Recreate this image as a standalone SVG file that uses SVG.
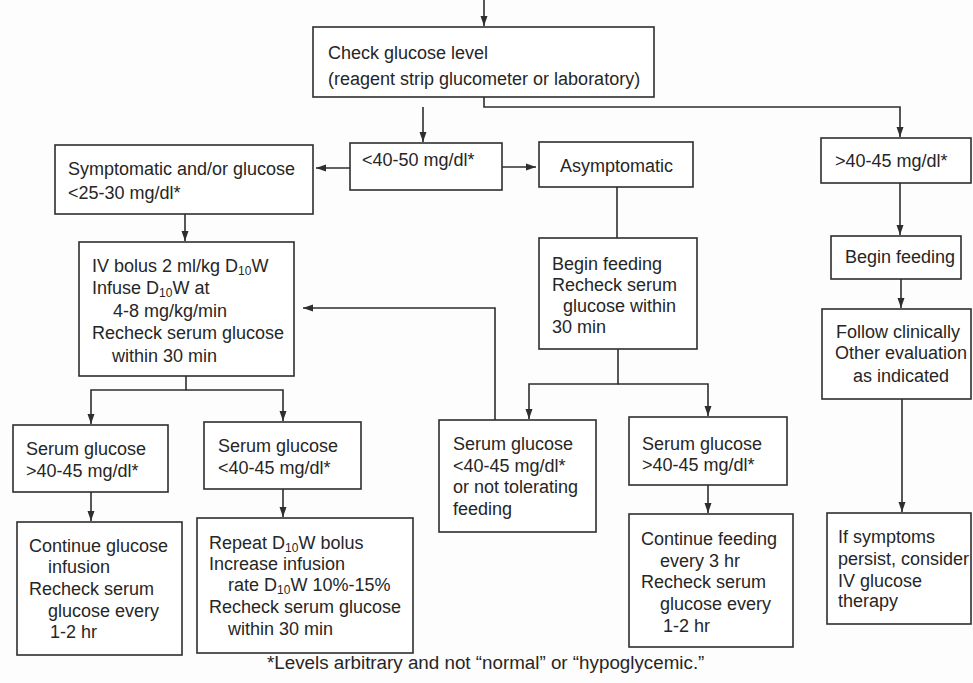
<svg xmlns="http://www.w3.org/2000/svg" width="973" height="683" viewBox="0 0 973 683">
<style>
.box{fill:#fff;stroke:#2e2e2e;stroke-width:1.6}
.ln{fill:none;stroke:#2e2e2e;stroke-width:1.6}
text{font-family:"Liberation Sans",Arial,sans-serif;font-size:18px;fill:#262626}
.sub{font-size:12px}
</style>
<defs>
<marker id="ah" markerUnits="userSpaceOnUse" markerWidth="10" markerHeight="8" refX="10" refY="4" orient="auto">
<path d="M0,0.5 L10,4 L0,7.5 z" fill="#2e2e2e"/>
</marker>
</defs>
<rect width="973" height="683" fill="#fdfdfd"/>
<g id="connectors">
<line class="ln" x1="484" y1="0" x2="484" y2="26" marker-end="url(#ah)"/>
<polyline class="ln" points="484,97 484,107 900,107 900,137" marker-end="url(#ah)"/>
<polyline class="ln" points="423,107 423,142" marker-end="url(#ah)"/>
<line class="ln" x1="350" y1="168" x2="316" y2="168" marker-end="url(#ah)"/>
<line class="ln" x1="502" y1="167" x2="536" y2="167" marker-end="url(#ah)"/>
<line class="ln" x1="185" y1="214" x2="185" y2="241" marker-end="url(#ah)"/>
<polyline class="ln" points="495,420 495,308 303,308" marker-end="url(#ah)"/>
<line class="ln" x1="617" y1="187" x2="617" y2="238"/>
<polyline class="ln" points="618,349 618,384 529,384 529,419" marker-end="url(#ah)"/>
<polyline class="ln" points="618,384 708,384 708,416" marker-end="url(#ah)"/>
<line class="ln" x1="708" y1="485" x2="708" y2="513" marker-end="url(#ah)"/>
<line class="ln" x1="900" y1="183" x2="900" y2="235" marker-end="url(#ah)"/>
<line class="ln" x1="901" y1="279" x2="901" y2="308" marker-end="url(#ah)"/>
<line class="ln" x1="902" y1="399" x2="902" y2="512" marker-end="url(#ah)"/>
<polyline class="ln" points="186,376 186,390 91,390 91,424" marker-end="url(#ah)"/>
<polyline class="ln" points="186,390 283,390 283,421" marker-end="url(#ah)"/>
<line class="ln" x1="91" y1="492" x2="91" y2="521" marker-end="url(#ah)"/>
<line class="ln" x1="283" y1="489" x2="283" y2="517" marker-end="url(#ah)"/>
</g>
<g id="check">
<rect class="box" x="313" y="27" width="341" height="70"/>
<text x="328" y="59">Check glucose level</text>
<text x="328" y="85">(reagent strip glucometer or laboratory)</text>
</g>
<g id="lt4050">
<rect class="box" x="350" y="143" width="152" height="47"/>
<text x="362" y="166">&lt;40-50 mg/dl*</text>
</g>
<g id="symptomatic">
<rect class="box" x="55" y="145" width="258" height="69"/>
<text x="68" y="175">Symptomatic and/or glucose</text>
<text x="68" y="199">&lt;25-30 mg/dl*</text>
</g>
<g id="asymptomatic">
<rect class="box" x="539" y="142" width="154" height="45"/>
<text x="560" y="172">Asymptomatic</text>
</g>
<g id="gt4045top">
<rect class="box" x="821" y="138" width="150" height="45"/>
<text x="835" y="167">&gt;40-45 mg/dl*</text>
</g>
<g id="ivbolus">
<rect class="box" x="79" y="242" width="215" height="134"/>
<text x="92" y="272">IV bolus 2 ml/kg D<tspan class="sub" dy="3">10</tspan><tspan dy="-3">W</tspan></text>
<text x="92" y="294">Infuse D<tspan class="sub" dy="3">10</tspan><tspan dy="-3">W at</tspan></text>
<text x="113" y="317">4-8 mg/kg/min</text>
<text x="92" y="339">Recheck serum glucose</text>
<text x="112" y="362">within 30 min</text>
</g>
<g id="beginfeeding1">
<rect class="box" x="539" y="238" width="158" height="111"/>
<text x="552" y="270">Begin feeding</text>
<text x="552" y="291">Recheck serum</text>
<text x="563" y="312">glucose within</text>
<text x="552" y="333">30 min</text>
</g>
<g id="beginfeeding2">
<rect class="box" x="831" y="236" width="130" height="43"/>
<text x="845" y="263">Begin feeding</text>
</g>
<g id="follow">
<rect class="box" x="822" y="309" width="149" height="90"/>
<text x="836" y="338">Follow clinically</text>
<text x="835" y="359">Other evaluation</text>
<text x="853" y="382">as indicated</text>
</g>
<g id="serumgt1">
<rect class="box" x="13" y="425" width="155" height="67"/>
<text x="26" y="455">Serum glucose</text>
<text x="26" y="477">&gt;40-45 mg/dl*</text>
</g>
<g id="serumlt1">
<rect class="box" x="204" y="422" width="157" height="67"/>
<text x="218" y="452">Serum glucose</text>
<text x="218" y="474">&lt;40-45 mg/dl*</text>
</g>
<g id="serumlt2">
<rect class="box" x="439" y="420" width="157" height="112"/>
<text x="453" y="450">Serum glucose</text>
<text x="453" y="472">&lt;40-45 mg/dl*</text>
<text x="453" y="493">or not tolerating</text>
<text x="453" y="515">feeding</text>
</g>
<g id="serumgt2">
<rect class="box" x="629" y="417" width="158" height="68"/>
<text x="642" y="450">Serum glucose</text>
<text x="642" y="471">&gt;40-45 mg/dl*</text>
</g>
<g id="continueglucose">
<rect class="box" x="17" y="522" width="165" height="133"/>
<text x="29" y="552">Continue glucose</text>
<text x="48" y="573">infusion</text>
<text x="29" y="595">Recheck serum</text>
<text x="48" y="617">glucose every</text>
<text x="50" y="638">1-2 hr</text>
</g>
<g id="repeat">
<rect class="box" x="197" y="518" width="216" height="135"/>
<text x="209" y="549">Repeat D<tspan class="sub" dy="3">10</tspan><tspan dy="-3">W bolus</tspan></text>
<text x="209" y="570">Increase infusion</text>
<text x="228" y="591">rate D<tspan class="sub" dy="3">10</tspan><tspan dy="-3">W 10%-15%</tspan></text>
<text x="209" y="613">Recheck serum glucose</text>
<text x="228" y="635">within 30 min</text>
</g>
<g id="continuefeeding">
<rect class="box" x="629" y="514" width="164" height="133"/>
<text x="641" y="545">Continue feeding</text>
<text x="660" y="567">every 3 hr</text>
<text x="641" y="588">Recheck serum</text>
<text x="660" y="610">glucose every</text>
<text x="663" y="632">1-2 hr</text>
</g>
<g id="ifsymptoms">
<rect class="box" x="827" y="513" width="144" height="111"/>
<text x="838" y="543">If symptoms</text>
<text x="838" y="565">persist, consider</text>
<text x="838" y="587">IV glucose</text>
<text x="838" y="607">therapy</text>
</g>
<g id="footnote">
<text x="267" y="669" style="font-size:18.8px">*Levels arbitrary and not “normal” or “hypoglycemic.”</text>
</g>
</svg>
